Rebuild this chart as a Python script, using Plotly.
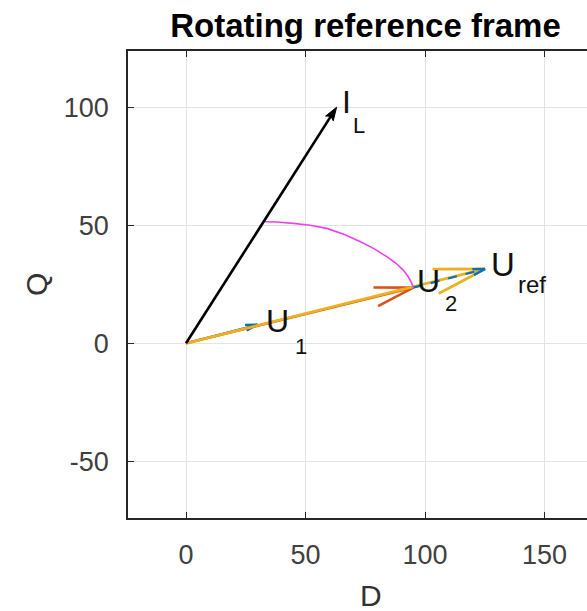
import numpy as np
import plotly.graph_objects as go

# ---- data ----
IL = (63.0, 100.0)          # current phasor I_L
U1 = (30.0, 7.9)            # U1 phasor
U2 = (95.1, 23.6)           # U2 phasor
UREF = (U2[0] + U1[0], U2[1] + U1[1])  # U_ref = U2 + U1

arc_D = [33.1, 38.0, 44.9, 52.0, 58.9, 66.0, 72.8, 78.8, 84.0, 88.0, 90.9, 93.0, 94.4, 95.1]
arc_Q = [51.5, 51.4, 50.8, 50.0, 48.7, 46.2, 43.1, 40.0, 36.7, 33.8, 31.0, 28.2, 25.6, 23.6]

x_ticks = [0, 50, 100, 150]
y_ticks = [-50, 0, 50, 100]
y_tick_text = ["-50", "0", "50", "100"]

FONT = "Liberation Sans, Arial, Helvetica, sans-serif"
BLUE, ORANGE, YELLOW = "#0072BD", "#D95319", "#EDB120"


def quiver_xy(x0, y0, u, v, alpha=0.165, beta=0.25):
    tx, ty = x0 + u, y0 + v
    h1 = (tx - alpha * (u + beta * v), ty - alpha * (v - beta * u))
    h2 = (tx - alpha * (u - beta * v), ty - alpha * (v + beta * u))
    xs = [x0, tx, None, h1[0], tx, h2[0]]
    ys = [y0, ty, None, h1[1], ty, h2[1]]
    return xs, ys


fig = go.Figure()

# blue U1 from origin (solid)
xs, ys = quiver_xy(0, 0, *U1)
fig.add_trace(go.Scatter(x=xs, y=ys, mode="lines", line=dict(color=BLUE, width=2.2)))
# orange U2 from origin
xs, ys = quiver_xy(0, 0, *U2)
fig.add_trace(go.Scatter(x=xs, y=ys, mode="lines", line=dict(color=ORANGE, width=2.6)))
# yellow U_ref from origin
xs, ys = quiver_xy(0, 0, *UREF)
fig.add_trace(go.Scatter(x=xs, y=ys, mode="lines", line=dict(color=YELLOW, width=2.8)))
# blue dashed U1 starting at U2
xs, ys = quiver_xy(U2[0], U2[1], *U1)
fig.add_trace(go.Scatter(x=xs[:2], y=ys[:2], mode="lines", line=dict(color=BLUE, width=2.2, dash="dash")))
fig.add_trace(go.Scatter(x=xs[3:], y=ys[3:], mode="lines", line=dict(color=BLUE, width=2.2)))
# magenta arc
fig.add_trace(go.Scatter(x=arc_D, y=arc_Q, mode="lines", line=dict(color="#EE40EE", width=1.6)))

# black I_L arrow with filled head
L = np.hypot(*IL)
ux, uy = IL[0] / L, IL[1] / L
hl, hw = 5.6, 1.9
bx, by = IL[0] - hl * ux, IL[1] - hl * uy
fig.add_trace(go.Scatter(x=[0, bx + 0.3 * hl * ux], y=[0, by + 0.3 * hl * uy], mode="lines",
                         line=dict(color="black", width=2.6)))
cx, cy = IL[0] - 0.8 * hl * ux, IL[1] - 0.8 * hl * uy
fig.add_trace(go.Scatter(
    x=[IL[0], bx - hw * uy, cx, bx + hw * uy, IL[0]],
    y=[IL[1], by + hw * ux, cy, by - hw * ux, IL[1]],
    mode="lines", fill="toself", fillcolor="black", line=dict(color="black", width=1)))

# ---- labels ----
ann = []


def label(pt, main, sub, m_dx, m_dy, s_dx, s_dy, msize=32, ssize=22):
    ann.append(dict(x=pt[0], y=pt[1], xref="x", yref="y", text=main, showarrow=False,
                    xanchor="left", yanchor="middle", xshift=m_dx, yshift=m_dy,
                    font=dict(family=FONT, size=msize, color="#111111")))
    ann.append(dict(x=pt[0], y=pt[1], xref="x", yref="y", text=sub, showarrow=False,
                    xanchor="left", yanchor="middle", xshift=s_dx, yshift=s_dy,
                    font=dict(family=FONT, size=ssize, color="#111111")))


label(IL, "I", "L", 3, 5, 14, -18, msize=32, ssize=22)
label(UREF, "U", "ref", 4, 4, 31, -16, msize=33, ssize=24)
label(U2, "U", "2", 2, 7, 30, -16, msize=32, ssize=22)
label(U1, "U", "1", 6, 4, 35, -22, msize=32, ssize=22)

W, H = 587, 611
ml, mr, mt, mb = 128, 0, 51, 93
pw, ph = W - ml - mr, H - mt - mb

# axis titles (placed in plot-area paper coords)
ann.append(dict(x=(371 - ml) / pw, y=(H - mb - 595) / ph, xref="paper", yref="paper", text="D",
                showarrow=False, xanchor="center", yanchor="middle",
                font=dict(family=FONT, size=30, color="#333333")))
ann.append(dict(x=(36 - ml) / pw, y=(H - mb - 285) / ph, xref="paper", yref="paper", text="Q",
                showarrow=False, xanchor="center", yanchor="middle", textangle=-90,
                font=dict(family=FONT, size=30, color="#333333")))

x0 = (ml - 186) / 2.39
x1 = x0 + pw / 2.39
ytop = (343.3 - mt) / 2.36
ybot = ytop - ph / 2.36

fig.update_layout(
    width=W, height=H,
    margin=dict(l=ml, r=mr, t=mt, b=mb, autoexpand=False),
    paper_bgcolor="white", plot_bgcolor="white",
    showlegend=False,
    title=dict(text="<b>Rotating reference frame</b>", x=365.5 / W, xanchor="center",
               y=1 - 25 / H, yanchor="middle", xref="container", yref="container",
               font=dict(family=FONT, size=33, color="#000000")),
    annotations=ann,
    xaxis=dict(range=[x0, x1], tickvals=x_ticks, ticks="inside", ticklen=6, tickcolor="#262626",
               showline=True, linecolor="#262626", linewidth=1.5, mirror="ticks",
               showgrid=True, gridcolor="#E3E3E3", gridwidth=1, zeroline=False,
               tickfont=dict(family=FONT, size=27, color="#404040"), ticklabelstandoff=12),
    yaxis=dict(range=[ybot, ytop], tickvals=y_ticks, ticktext=y_tick_text, ticks="inside",
               ticklen=6, tickcolor="#262626",
               showline=True, linecolor="#262626", linewidth=1.5,
               showgrid=True, gridcolor="#E3E3E3", gridwidth=1, zeroline=False,
               tickfont=dict(family=FONT, size=27, color="#404040"), ticklabelstandoff=12),
)

fig.write_html("out.html", config={"displayModeBar": False},
               post_script="document.body.style.margin='0';")
